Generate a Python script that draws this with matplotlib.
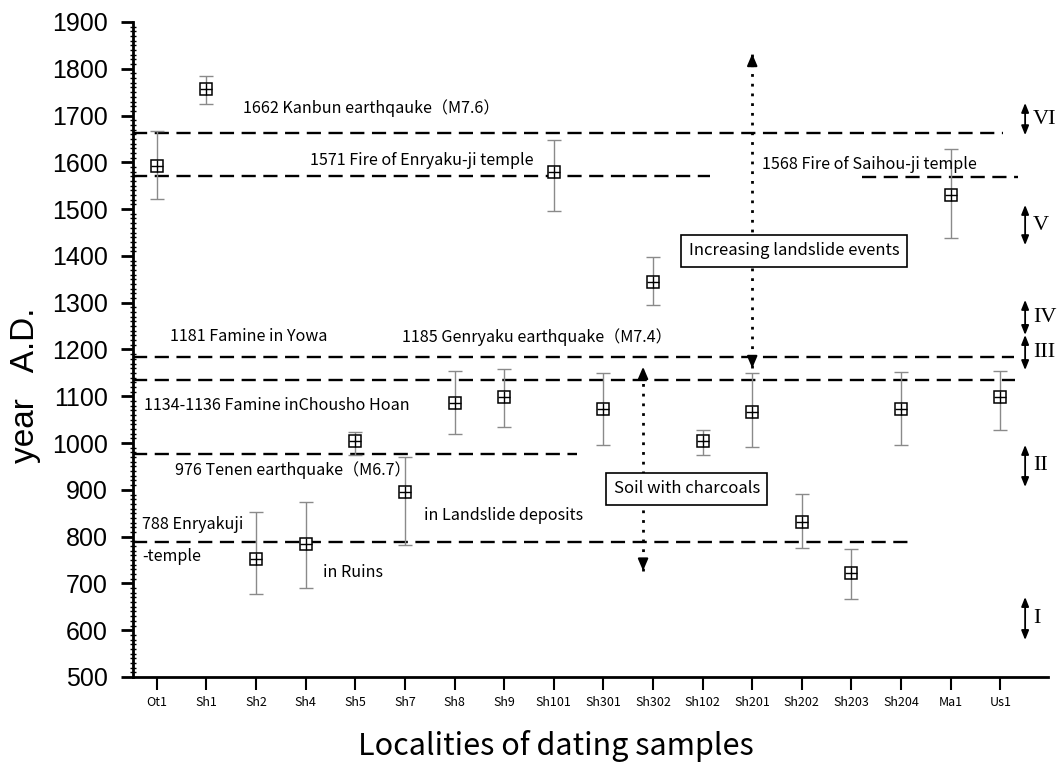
import numpy as np
import matplotlib
matplotlib.use("Agg")
from matplotlib import pyplot as plt
from matplotlib.ticker import MultipleLocator

# dating samples -------------------------------
sites = ["Ot1", "Sh1", "Sh2", "Sh4", "Sh5", "Sh7", "Sh8", "Sh9", "Sh101",
         "Sh301", "Sh302", "Sh102", "Sh201", "Sh202", "Sh203", "Sh204", "Ma1", "Us1"]
age_mid = [1593, 1756, 752, 785, 1004, 896, 1086, 1098, 1580,
           1072, 1345, 1004, 1066, 832, 722, 1072, 1530, 1099]
age_hi = [1667, 1784, 853, 873, 1024, 971, 1154, 1158, 1648,
          1150, 1397, 1027, 1150, 891, 774, 1151, 1628, 1155]
age_lo = [1522, 1725, 678, 691, 975, 782, 1019, 1034, 1497,
          995, 1295, 974, 992, 775, 667, 995, 1438, 1028]

# historical events (dashed lines)
event_year = [1662, 1571, 1568, 1185, 1134, 976, 788]
event_x0 = [-0.48, -0.48, 14.21, -0.48, -0.48, -0.48, -0.48]
event_x1 = [17.05, 11.15, 17.36, 17.27, 17.3, 8.47, 15.28]

labels = ["1662 Kanbun earthqauke（M7.6）", "1571 Fire of Enryaku-ji temple",
          "1568 Fire of Saihou-ji temple", "1181 Famine in Yowa",
          "1185 Genryaku earthquake（M7.4）", "1134-1136 Famine inChousho Hoan",
          "976 Tenen earthquake（M6.7）", "788 Enryakuji", "-temple",
          "in Ruins", "in Landslide deposits"]
label_x = [1.73, 3.08, 12.2, 0.26, 4.95, -0.25, 0.36, -0.29, -0.29, 3.34, 5.38]
label_y = [1716, 1603, 1596, 1227, 1227, 1081, 942, 825, 757, 724, 846]

# phases on the right side
phase_names = ["VI", "V", "IV", "III", "II", "I"]
phase_top = [1727, 1509, 1306, 1231, 996, 671]
phase_bot = [1658, 1423, 1231, 1156, 906, 579]

jp = ["Noto Sans CJK JP", "DejaVu Sans"]

fig = plt.figure(figsize=(10.58, 7.66), dpi=100)
ax = fig.add_axes([0.1257, 0.1162, 0.8648, 0.8551])

x = np.arange(len(sites))
mid = np.array(age_mid)
err = [mid - np.array(age_lo), np.array(age_hi) - mid]

# error bars: grey stem, dark caps
eb = ax.errorbar(x, mid, yerr=err, fmt="none", ecolor="#8a8a8a", elinewidth=1.0,
                 capsize=4.7, capthick=1.0, zorder=2)
for cap in eb[1]:
    cap.set_color("#222222")
ax.plot(x, mid, "s", mfc="white", mec="k", ms=9, mew=1.1, zorder=3)
ax.plot(x, mid, "+", color="k", ms=9, mew=1.0, zorder=4)

# dashed event lines
for yr, a, b in zip(event_year, event_x0, event_x1):
    ax.plot([a, b], [yr, yr], color="k", lw=1.7, ls=(0, (6, 3.2)), zorder=1)

for t, lx, ly in zip(labels, label_x, label_y):
    ax.text(lx, ly, t, fontsize=11.6, family=jp, ha="left", va="center")

# dotted arrows
def dotted_arrow(xx, y0, y1):
    ax.plot([xx, xx], [y0, y1], color="k", lw=2, ls=(0, (1, 2.5)), zorder=1)
    for tip, base in ((y0, y0 + np.sign(y1 - y0) * 25), (y1, y1 - np.sign(y1 - y0) * 25)):
        ax.annotate("", xy=(xx, tip), xytext=(xx, base),
                    arrowprops=dict(arrowstyle="-|>,head_length=0.7,head_width=0.3",
                                    color="k", lw=1.5, shrinkA=0, shrinkB=0))

dotted_arrow(12.0, 1160, 1832)
dotted_arrow(9.8, 727, 1163)

box = dict(boxstyle="square,pad=0.45", fc="white", ec="k", lw=1.2)
ax.text(12.84, 1411, "Increasing landslide events", fontsize=12, family=jp,
        ha="center", va="center", bbox=box, zorder=5)
ax.text(10.68, 902, "Soil with charcoals", fontsize=12, family=jp,
        ha="center", va="center", bbox=box, zorder=5)

# phase arrows
for nm, t, b in zip(phase_names, phase_top, phase_bot):
    ax.annotate("", xy=(17.5, t), xytext=(17.5, b),
                arrowprops=dict(arrowstyle="<|-|>,head_length=0.55,head_width=0.22",
                                color="k", lw=1.3, shrinkA=0, shrinkB=0))
    ax.text(17.66, (t + b) / 2, nm, fontsize=16, family="Liberation Serif",
            ha="left", va="center")

# axes ----------------------------------------
ax.set_xlim(-0.48, 17.96)
ax.set_ylim(500, 1900)
ax.set_xticks(x)
ax.set_xticklabels(sites, fontsize=9, family=jp)
ax.set_yticks(np.arange(500, 1901, 100))
ax.yaxis.set_minor_locator(MultipleLocator(10))
for lab in ax.get_yticklabels():
    lab.set_family("Liberation Sans")
    lab.set_fontsize(18)

ax.spines["top"].set_visible(False)
ax.spines["right"].set_visible(False)
ax.spines["left"].set_linewidth(2)
ax.spines["bottom"].set_linewidth(2)
ax.tick_params(axis="y", which="major", direction="out", length=9, width=2, pad=9)
ax.tick_params(axis="y", which="minor", direction="inout", length=5, width=1.0)
ax.tick_params(axis="x", which="major", direction="out", length=9, width=1.5, pad=5)

fig.text(0.024, 0.497, "year   A.D.", rotation=90, fontsize=24,
         family="Liberation Sans", ha="center", va="center")
fig.text(0.5255, 0.026, "Localities of dating samples", fontsize=22,
         family=jp, ha="center", va="center")

plt.savefig("out.png", dpi=100)
